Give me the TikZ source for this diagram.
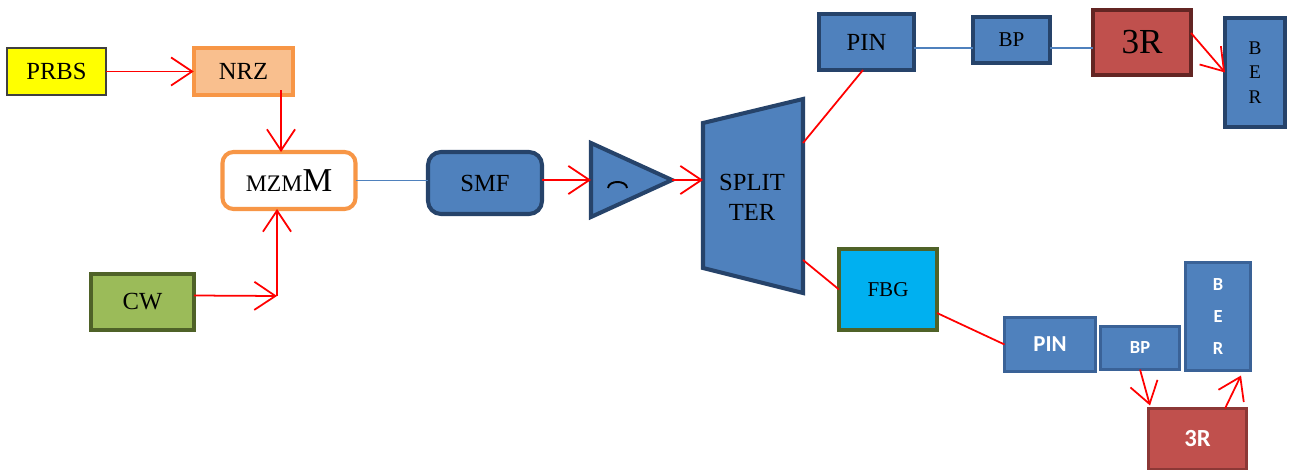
\documentclass[tikz,border=0pt]{standalone}
\usepackage{fontspec}
\setmainfont{Liberation Serif}
\newfontfamily\calib{Carlito}
\usetikzlibrary{arrows.meta,calc}
\definecolor{blfill}{HTML}{4F81BD}
\definecolor{bldark}{HTML}{26436A}
\definecolor{bllight}{HTML}{3A6297}
\definecolor{orbord}{HTML}{F79646}
\definecolor{orfill}{HTML}{F9BF8E}
\definecolor{cwfill}{HTML}{9BBB59}
\definecolor{olive}{HTML}{4F6228}
\definecolor{fbgfill}{HTML}{00B0F0}
\definecolor{rfill}{HTML}{C0504D}
\definecolor{rdark}{HTML}{632523}
\definecolor{rmid}{HTML}{8C3836}
\definecolor{prbsfill}{HTML}{FFFF00}
\tikzset{
  box/.style={draw,inner sep=0pt,outer sep=0pt,font=\fontsize{14}{16}\selectfont},
  bluebox/.style={box,fill=blfill,draw=bldark,line width=2.3pt},
  bluebox2/.style={box,fill=blfill,draw=bllight,line width=1.8pt,text=white,font=\calib\bfseries},
  redbox/.style={box,fill=rfill,draw=rdark,line width=2.3pt},
  arr/.style={draw=red,line width=1pt,-{Straight Barb[length=12pt,width=16pt,line width=1pt]}},
  rline/.style={draw=red,line width=1pt},
  bline/.style={draw=blfill,line width=0.9pt},
}
\begin{document}
\begin{tikzpicture}[x=0.2mm,y=-0.2mm]
\useasboundingbox (0,0) rectangle (1291,470);
% left chain
\node[box,fill=prbsfill,draw=black!75,line width=0.6pt,minimum width=19.8mm,minimum height=9.4mm] (PRBS) at (56.5,71.5) {PRBS};
\node[box,fill=orfill,draw=orbord,line width=2pt,minimum width=19.9mm,minimum height=9.5mm] (NRZ) at (243.5,71.5) {NRZ};
\node[box,fill=white,draw=orbord,line width=2.3pt,rounded corners=2.2mm,minimum width=26.6mm,minimum height=11.4mm] (MZM) at (289,180.5) {{\fontsize{13.5}{15}\selectfont MZM}{\fontsize{19}{21}\selectfont M}};
\node[box,fill=cwfill,draw=olive,line width=2.3pt,minimum width=20.6mm,minimum height=11.2mm] (CW) at (142.5,302) {CW};
\node[bluebox,rounded corners=2.6mm,minimum width=22.8mm,minimum height=12.4mm] (SMF) at (485,183) {SMF};
% amplifier
\draw[fill=blfill,draw=bldark,line width=2.3pt,line join=miter] (591,143) -- (672,180) -- (591,217) -- cycle;
\coordinate (ampL) at (591,180);
\coordinate (ampR) at (672,180);
\draw[line width=1.1pt] (608,188) .. controls (608.5,180) and (626.5,180) .. (627,188);
% splitter
\draw[fill=blfill,draw=bldark,line width=2.3pt,line join=miter] (703,123) -- (803,99) -- (803,293) -- (703,268) -- cycle;
\node[align=center,font=\fontsize{14}{17}\selectfont,inner sep=0pt] (SPL) at (752,197) {SPLIT\\TER};
\coordinate (splL) at (703,180);
\coordinate (sp1) at (803,143);
\coordinate (sp2) at (803,260);
% upper branch
\node[bluebox,minimum width=19mm,minimum height=11.2mm] (PIN1) at (866.5,42) {PIN};
\node[bluebox,minimum width=15.4mm,minimum height=9.2mm,font=\fontsize{12}{14}\selectfont] (BP1) at (1011.5,40) {BP};
\node[redbox,minimum width=19.6mm,minimum height=13mm,font=\fontsize{20}{22}\selectfont] (R1) at (1142,42.5) {3R};
\node[bluebox,minimum width=12mm,minimum height=21.8mm,align=center,font=\fontsize{11}{14}\selectfont] (BER1) at (1255,72.5) {B\\E\\R};
% lower branch
\node[box,fill=fbgfill,draw=olive,line width=2.3pt,minimum width=19.6mm,minimum height=16.2mm,font=\fontsize{12}{14}\selectfont] (FBG) at (888,289.5) {FBG};
\node[bluebox2,minimum width=18.2mm,minimum height=10.8mm,font=\calib\bfseries\fontsize{13}{15}\selectfont] (PIN2) at (1050,344.5) {PIN};
\node[bluebox2,minimum width=15.8mm,minimum height=8.6mm,font=\calib\bfseries\fontsize{10.5}{12}\selectfont] (BP2) at (1140,348) {\raisebox{-1.2mm}{BP}};
\node[bluebox2,minimum width=13mm,minimum height=21.6mm,align=center,font=\calib\bfseries\fontsize{10.5}{18}\selectfont] (BER2) at (1218,316.5) {B\\E\\R};
\node[box,fill=rfill,draw=rmid,line width=1.8pt,text=white,minimum width=19.6mm,minimum height=12.2mm,font=\calib\bfseries\fontsize{14}{16}\selectfont] (R2) at (1197.5,439) {3R};
% connectors
\draw[arr] (PRBS.east) -- (NRZ.west);
\draw[arr] ([shift={(7.5mm,1mm)}]NRZ.south) -- ([xshift=7.5mm]NRZ.south |- MZM.north);
\coordinate (cwj) at (277,296);
\draw[arr] ([yshift=1.3mm]CW.east) -- (cwj);
\draw[arr] (cwj) -- (cwj |- MZM.south);
\draw[bline] (MZM.east) -- (MZM.east -| SMF.west);
\draw[arr] (SMF.east |- ampL) -- (ampL);
\draw[arr] (ampR) -- (splL);
\draw[rline] (sp1) -- ([xshift=-0.7mm]PIN1.south);
\draw[rline] (sp2) -- (FBG.west);
\draw[bline] ([yshift=-1.2mm]PIN1.east) -- ([yshift=-1.2mm]PIN1.east -| BP1.west);
\draw[bline] ([yshift=-1.2mm]PIN1.east -| BP1.east) -- ([yshift=-1.2mm]PIN1.east -| R1.west);
\draw[arr] ([yshift=1.9mm]R1.east) -- (BER1.west);
\draw[rline] ([yshift=-4.7mm]FBG.east) -- (PIN2.west);
\draw[arr] (BP2.south) -- ([shift={(0.3mm,0.6mm)}]R2.north west);
\draw[arr] ([xshift=5.5mm]R2.north) -- ([shift={(4.6mm,-1mm)}]BER2.south);
\end{tikzpicture}
\end{document}
